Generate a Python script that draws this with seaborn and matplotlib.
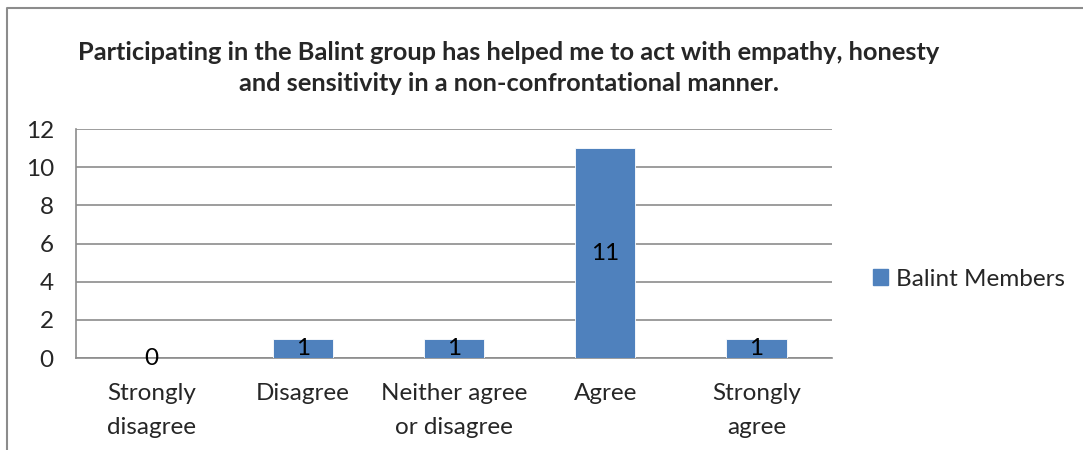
import matplotlib
matplotlib.use("Agg")
import matplotlib.pyplot as plt
import seaborn as sns
from matplotlib.lines import Line2D
from matplotlib.patches import Patch

# chart data
categories = ["Strongly\ndisagree", "Disagree", "Neither agree\nor disagree", "Agree", "Strongly\nagree"]
members = [0, 1, 1, 11, 1]
series_name = "Balint Members"
title = ("Participating in the Balint group has helped me to act with empathy, honesty\n"
         "and sensitivity in a non-confrontational manner.")

sns.set_style("white")
plt.rcParams['font.family'] = ['Lato', 'DejaVu Sans']

bar_color = "#4F81BD"
grid_color = "#8C8C8C"
fs = 17.5

fig = plt.figure(figsize=(10.83, 4.5), dpi=100)
ax = fig.add_axes([0.0702, 0.2044, 0.6980, 0.5089])

sns.barplot(x=categories, y=members, color=bar_color, width=0.4, ax=ax,
            saturation=1, edgecolor="white", linewidth=0.6, zorder=3)

ax.set_xlim(-0.5, 4.5)
ax.set_ylim(0, 12)
ax.set_yticks(range(0, 13, 2))
ax.yaxis.grid(True, color=grid_color, linewidth=1.2, zorder=0)
ax.set_axisbelow(True)

# value labels in the middle of each bar
for i, v in enumerate(members):
    ax.text(i, v / 2, str(v), ha="center", va="center", fontsize=fs, color="black", zorder=4)

# ticks at category boundaries like Excel
ax.set_xticks([i - 0.5 for i in range(len(categories) + 1)], minor=True)
ax.set_xticks(range(len(categories)))
ax.set_xticklabels(categories, fontsize=fs)
for lbl in ax.get_xticklabels():
    lbl.set_linespacing(1.75)
ax.tick_params(axis="x", which="major", length=0, pad=18)
ax.tick_params(axis="x", which="minor", length=8, width=1.2, color=grid_color)
ax.tick_params(axis="y", length=8, width=1.2, color=grid_color, labelsize=fs, pad=8)

for s in ["top", "right"]:
    ax.spines[s].set_visible(False)
for s in ["left", "bottom"]:
    ax.spines[s].set_color(grid_color)
    ax.spines[s].set_linewidth(1.2)

fig.text(0.470, 0.849, title, ha="center", va="center", fontsize=18.3,
         fontweight="bold", linespacing=1.45)

handle = Patch(facecolor=bar_color, edgecolor=bar_color)
fig.legend([handle], [series_name], loc="center left", bbox_to_anchor=(0.786, 0.38),
           frameon=False, fontsize=fs, handlelength=0.62, handleheight=0.62,
           handletextpad=0.33)

# outer chart frame (left and top)
fig.add_artist(Line2D([0.0065, 0.0065, 1.0], [0.0, 0.982, 0.982],
                      transform=fig.transFigure, color="#8C8C8C", linewidth=1.5))

fig.savefig("out.png", dpi=100)
